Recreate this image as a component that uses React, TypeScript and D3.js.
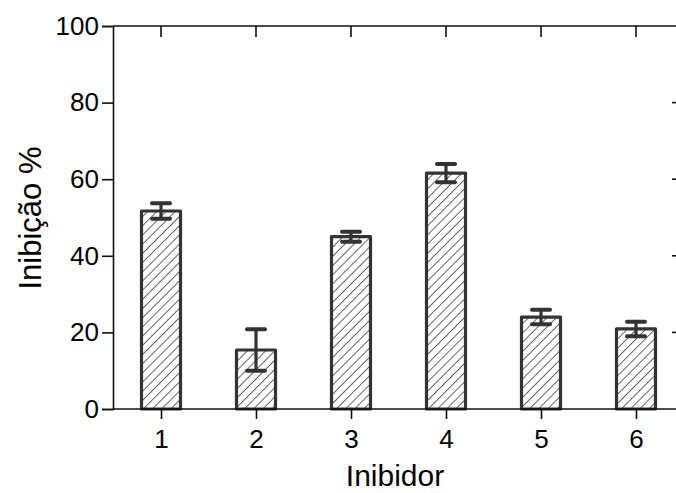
import { useEffect, useRef } from 'react'
import * as d3 from 'd3'

const inhibitors = ['1', '2', '3', '4', '5', '6']
const inhibition = [51.7, 15.4, 45.0, 61.6, 24.0, 20.9]
const errors = [2.0, 5.4, 1.3, 2.4, 1.9, 1.9]
const yTicks = [0, 20, 40, 60, 80, 100]

const WIDTH = 676
const HEIGHT = 493

export default function App() {
  const ref = useRef<SVGSVGElement>(null)

  useEffect(() => {
    const el = ref.current
    if (!el) return
    const svg = d3.select(el)
    svg.selectAll('*').remove()

    const left = 113
    const right = 680
    const top = 26
    const bottom = 409
    const font = 'Arial, "Liberation Sans", sans-serif'
    const ink = '#333'

    const x = d3.scalePoint<string>().domain(inhibitors).range([161, 636])
    const y = d3.scaleLinear().domain([0, 100]).range([bottom, top])
    const barW = 39
    const capW = 18

    const defs = svg.append('defs')
    defs
      .append('pattern')
      .attr('id', 'hatch')
      .attr('patternUnits', 'userSpaceOnUse')
      .attr('width', 6.5)
      .attr('height', 6.5)
      .attr('patternTransform', 'rotate(45)')
      .call((p) => {
        p.append('rect').attr('width', 6.5).attr('height', 6.5).attr('fill', '#fff')
        p.append('line')
          .attr('x1', 0)
          .attr('y1', 0)
          .attr('x2', 0)
          .attr('y2', 6.5)
          .attr('stroke', ink)
          .attr('stroke-width', 1.5)
      })

    // frame: top line with inward ticks, right ticks only
    svg.append('line')
      .attr('x1', left).attr('x2', right)
      .attr('y1', top).attr('y2', top)
      .attr('stroke', '#111').attr('stroke-width', 1.6)
    svg.selectAll('line.ttick')
      .data(inhibitors)
      .join('line')
      .attr('class', 'ttick')
      .attr('x1', (d) => x(d)!).attr('x2', (d) => x(d)!)
      .attr('y1', top).attr('y2', top + 11)
      .attr('stroke', '#111').attr('stroke-width', 1.6)
    svg.selectAll('line.rtick')
      .data(yTicks.slice(1, -1))
      .join('line')
      .attr('class', 'rtick')
      .attr('x1', 672).attr('x2', right)
      .attr('y1', (d) => y(d)).attr('y2', (d) => y(d))
      .attr('stroke', '#111').attr('stroke-width', 1.6)

    // bars
    svg.selectAll('rect.bar')
      .data(inhibition)
      .join('rect')
      .attr('class', 'bar')
      .attr('x', (_, i) => x(inhibitors[i])! - barW / 2)
      .attr('y', (d) => y(d))
      .attr('width', barW)
      .attr('height', (d) => bottom - y(d))
      .attr('fill', 'url(#hatch)')
      .attr('stroke', ink)
      .attr('stroke-width', 3.2)
      .attr('stroke-linejoin', 'round')

    // error bars
    const eb = svg.selectAll('g.err').data(inhibition).join('g').attr('class', 'err')
    eb.append('line')
      .attr('x1', (_, i) => x(inhibitors[i])!).attr('x2', (_, i) => x(inhibitors[i])!)
      .attr('y1', (d, i) => y(d - errors[i])).attr('y2', (d, i) => y(d + errors[i]))
      .attr('stroke', ink).attr('stroke-width', 3.2)
    ;[-1, 1].forEach((s) => {
      eb.append('line')
        .attr('x1', (_, i) => x(inhibitors[i])! - capW / 2)
        .attr('x2', (_, i) => x(inhibitors[i])! + capW / 2)
        .attr('y1', (d, i) => y(d + s * errors[i]))
        .attr('y2', (d, i) => y(d + s * errors[i]))
        .attr('stroke', ink).attr('stroke-width', 4).attr('stroke-linecap', 'round')
    })

    // axes
    const ax = svg.append('g').attr('transform', `translate(${left},0)`)
      .call(d3.axisLeft(y).tickValues(yTicks).tickSize(11).tickPadding(3).tickFormat(d3.format('d')))
    const bx = svg.append('g').attr('transform', `translate(0,${bottom})`)
      .call(d3.axisBottom(x).tickSize(10).tickPadding(11))
    bx.select('.domain').attr('d', `M${left},0H${right}`)
    ;[ax, bx].forEach((g) => {
      g.selectAll('.domain, .tick line').attr('stroke', '#111').attr('stroke-width', 1.6)
      g.selectAll('text').attr('fill', '#000').attr('font-size', 26).attr('font-family', font)
    })

    svg.append('text')
      .attr('x', 395).attr('y', 486)
      .attr('text-anchor', 'middle')
      .attr('font-family', font).attr('font-size', 30)
      .text('Inibidor')

    svg.append('text')
      .attr('transform', `translate(41,218) rotate(-90)`)
      .attr('text-anchor', 'middle')
      .attr('font-family', font).attr('font-size', 31)
      .text('Inibição %')
  }, [])

  return (
    <svg
      ref={ref}
      width={WIDTH}
      height={HEIGHT}
      style={{ position: 'absolute', left: 0, top: 0, background: '#fff' }}
    />
  )
}
